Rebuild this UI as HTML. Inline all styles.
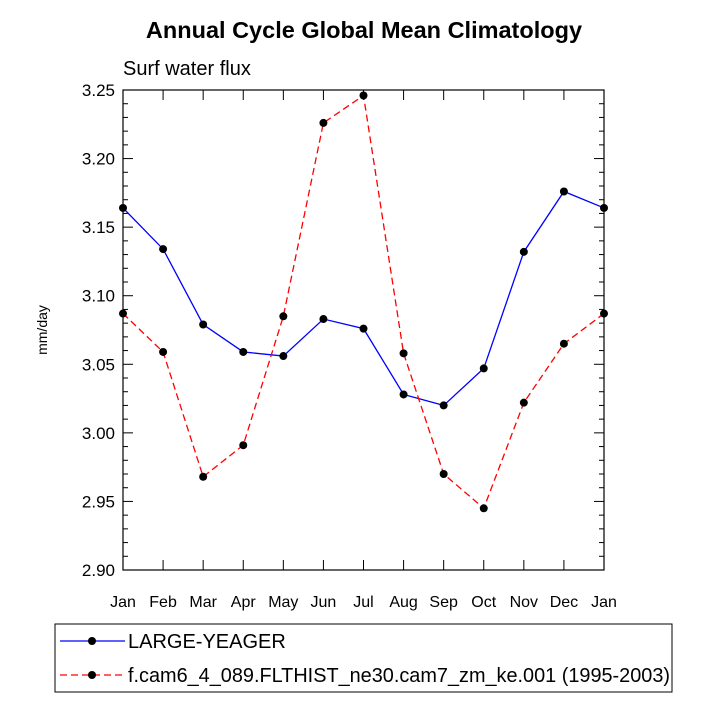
<!DOCTYPE html>
<html><head><meta charset="utf-8"><style>
body{margin:0;background:#fff;width:708px;height:708px;overflow:hidden}
svg text{font-family:"Liberation Sans",Arial,sans-serif}
</style></head><body>
<svg id="chart" width="708" height="708" xmlns="http://www.w3.org/2000/svg">
<text x="364" y="38" text-anchor="middle" font-size="23.5" font-weight="bold">Annual Cycle Global Mean Climatology</text>
<text x="123" y="75" font-size="20">Surf water flux</text>
<text transform="translate(47,330) rotate(-90)" text-anchor="middle" font-size="14">mm/day</text>
<g id="axes"></g>
<g id="series"></g>
<rect x="55" y="624" width="617" height="68" fill="none" stroke="#000" stroke-width="1"/>
<g>
<line x1="60" y1="641" x2="125" y2="641" stroke="#00f" stroke-width="1.3"/>
<circle cx="92" cy="641" r="4" fill="#000"/>
<text x="128" y="648" font-size="20">LARGE-YEAGER</text></g>
<g>
<line x1="60" y1="675" x2="125" y2="675" stroke="#f00" stroke-width="1.3" stroke-dasharray="7,4"/>
<circle cx="92" cy="675" r="4" fill="#000"/>
<text x="128" y="682" font-size="20" textLength="542" lengthAdjust="spacingAndGlyphs">f.cam6_4_089.FLTHIST_ne30.cam7_zm_ke.001 (1995-2003)</text></g>
</svg>
<script>
const months=["Jan","Feb","Mar","Apr","May","Jun","Jul","Aug","Sep","Oct","Nov","Dec","Jan"];
const yTicks=[2.90,2.95,3.00,3.05,3.10,3.15,3.20,3.25];
const largeYeager=[3.164,3.134,3.079,3.059,3.056,3.083,3.076,3.028,3.020,3.047,3.132,3.176,3.164];
const cam6=[3.087,3.059,2.968,2.991,3.085,3.226,3.246,3.058,2.970,2.945,3.022,3.065,3.087];
const L=123,R=604,T=90,B=570,yMin=2.90,yMax=3.25;
const NS="http://www.w3.org/2000/svg";
const xs=i=>L+(R-L)*i/(months.length-1);
const ys=v=>B-(v-yMin)/(yMax-yMin)*(B-T);
function mk(tag,at,parent){const e=document.createElementNS(NS,tag);for(const k in at)e.setAttribute(k,at[k]);parent.appendChild(e);return e;}
const ax=document.getElementById('axes');
const fr=mk('rect',{x:L,y:T,width:R-L,height:B-T,fill:'none',stroke:'#000','stroke-width':1.2},ax);


for(let k=0;k<=35;k++){const v=yMin+k*0.01,y=ys(v),len=(k%5==0)?10:5;
mk('line',{x1:L,y1:y,x2:L+len,y2:y,stroke:'#000'},ax);mk('line',{x1:R,y1:y,x2:R-len,y2:y,stroke:'#000'},ax);}
yTicks.forEach(v=>{const t=mk('text',{x:L-8,y:ys(v)+6,'text-anchor':'end','font-size':17},ax);t.textContent=v.toFixed(2);

});
months.forEach((m,i)=>{const x=xs(i);mk('line',{x1:x,y1:B,x2:x,y2:B-10,stroke:'#000'},ax);mk('line',{x1:x,y1:T,x2:x,y2:T+10,stroke:'#000'},ax);
const t=mk('text',{x:x,y:B+37,'text-anchor':'middle','font-size':16},ax);t.textContent=m;

});
const sg=document.getElementById('series');
function draw(vals,color,dash,name){const g=mk('g',{},sg);


mk('polyline',{points:vals.map((v,i)=>xs(i)+','+ys(v)).join(' '),fill:'none',stroke:color,'stroke-width':1.3,'stroke-dasharray':dash},g);
vals.forEach((v,i)=>{const c=mk('circle',{cx:xs(i),cy:ys(v),r:4,fill:'#000'},g);

});}
draw(largeYeager,'#00f','none','series-large-yeager');
draw(cam6,'#f00','7,4','series-cam6');
</script>
</body></html>
